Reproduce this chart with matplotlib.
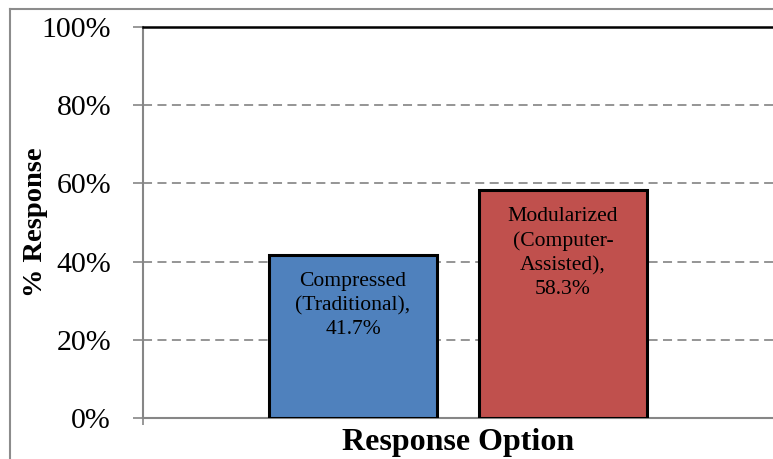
import matplotlib
matplotlib.use("Agg")
import matplotlib.pyplot as plt
from matplotlib.lines import Line2D

# survey results
options = ["Compressed\n(Traditional),", "Modularized\n(Computer-\nAssisted),"]
pct = [41.7, 58.3]
colors = ["#4F81BD", "#C0504D"]
yticks = [0, 20, 40, 60, 80, 100]

plt.rcParams['font.family'] = ['Liberation Serif', 'DejaVu Serif']

W, H = 773, 459
fig = plt.figure(figsize=(W / 100, H / 100), dpi=100)
ax = fig.add_axes([143 / W, 1 - 418 / H, (773 - 143) / W, (418 - 27) / H])

xpos = list(range(len(pct)))
ax.bar(xpos, pct, width=0.8, color=colors, edgecolor="black", linewidth=2.2, zorder=3)

for x, lab, v in zip(xpos, options, pct):
    ax.annotate(f"{lab}\n{v}%", xy=(x, v), xytext=(0, -12.5), textcoords="offset points",
                ha="center", va="top", fontsize=15.6, linespacing=1.34, zorder=4)

ax.set_xlim(-1, 2)
ax.set_ylim(0, 100)
ax.set_yticks(yticks)
ax.set_yticklabels([f"{t}%" for t in yticks], fontsize=21.5)
ax.set_xticks([-1])
ax.set_xticklabels([""])
ax.tick_params(axis="y", length=7, width=1.2, color="#868686", pad=16)
ax.tick_params(axis="x", length=5, width=1.2, color="#868686")

# dashed grid, solid black line on top
for t in yticks[1:-1]:
    ax.axhline(t, color="#8c8c8c", lw=1.3, ls=(0, (5, 3)), zorder=1)

for s in ["left", "bottom"]:
    ax.spines[s].set_color("#868686")
    ax.spines[s].set_linewidth(1.5)
ax.spines["right"].set_visible(False)
ax.spines["top"].set_color("black")
ax.spines["top"].set_linewidth(1.8)

ax.set_ylabel("% Response", fontsize=20.5, fontweight="bold")
ax.set_xlabel("Response Option", fontsize=23, fontweight="bold", va="baseline")
ax.yaxis.set_label_coords(-(143 - 48) / (773 - 143), 0.5)
ax.xaxis.set_label_coords(0.5, -(450 - 418) / (418 - 27))

# chart area border
fig.add_artist(Line2D([10 / W, 10 / W], [1 - 9 / H, 0], color="#8c8c8c", lw=1.5))
fig.add_artist(Line2D([10 / W, 1], [1 - 9 / H, 1 - 9 / H], color="#8c8c8c", lw=1.5))

fig.savefig("out.png", dpi=100)
